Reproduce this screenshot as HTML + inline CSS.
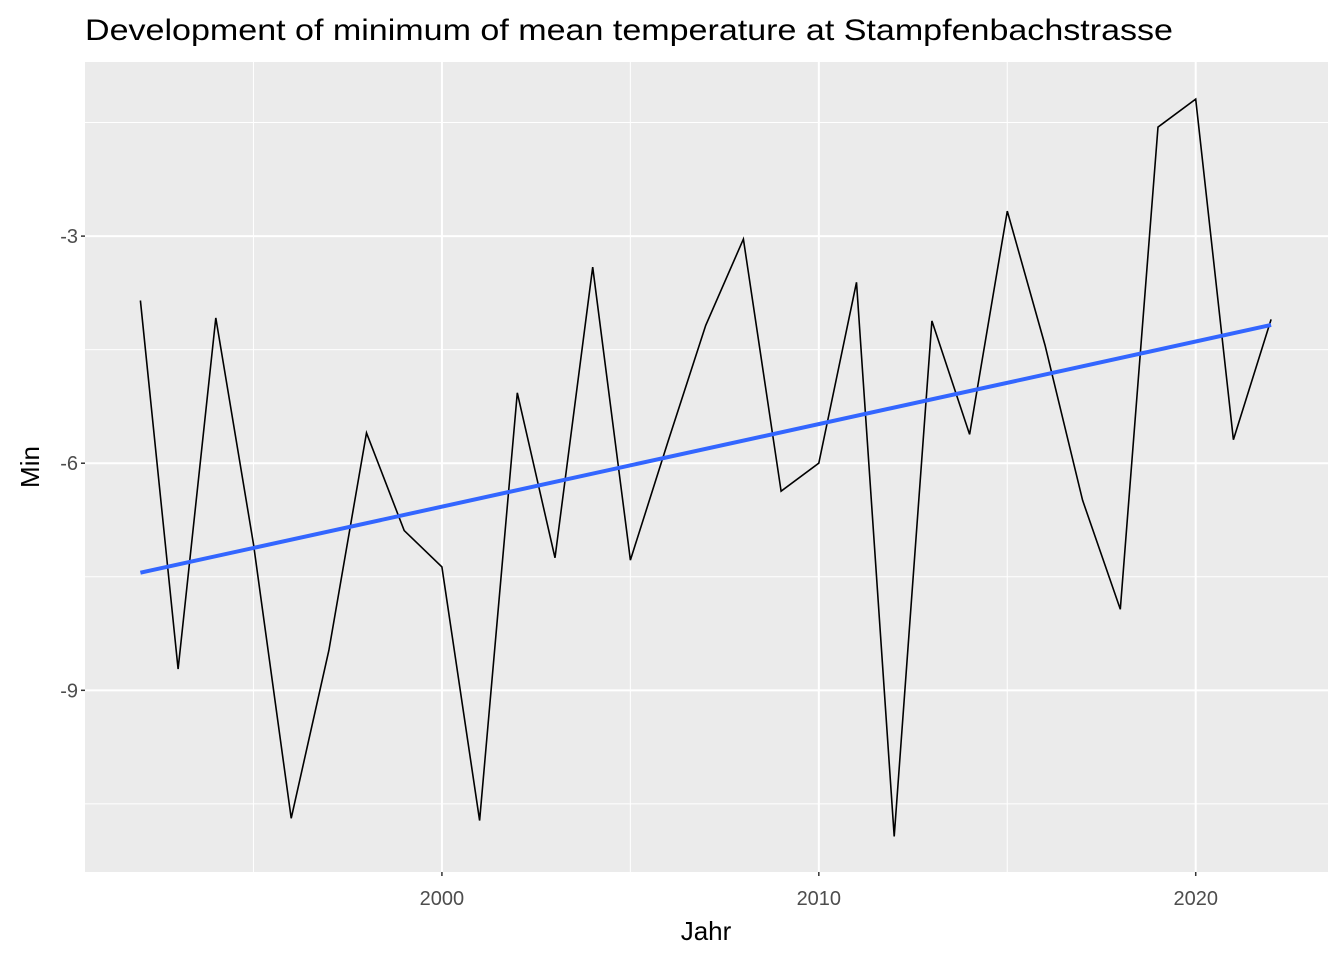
<!DOCTYPE html>
<html><head><meta charset="utf-8"><style>
body{margin:0;background:#fff;}
svg{display:block;font-family:"Liberation Sans",sans-serif;}
</style></head><body>
<svg id="chart" width="1344" height="960" xmlns="http://www.w3.org/2000/svg">
<rect x="0" y="0" width="1344" height="960" fill="#fff"/>
<text x="85" y="40" font-size="30" textLength="1088" lengthAdjust="spacingAndGlyphs" fill="#000">Development of minimum of mean temperature at Stampfenbachstrasse</text>
<rect x="85" y="62" width="1243" height="810" fill="#ebebeb"/>
<g id="grid"></g>
<g id="marks"></g>
<g id="axes"></g>
<text x="706" y="940" font-size="26" text-anchor="middle" fill="#000">Jahr</text>
<text transform="translate(39,467) rotate(-90)" font-size="26" text-anchor="middle" fill="#000">Min</text>
</svg>
<script>
const years = [1992,1993,1994,1995,1996,1997,1998,1999,2000,2001,2002,2003,2004,2005,2006,2007,2008,2009,2010,2011,2012,2013,2014,2015,2016,2017,2018,2019,2020,2021,2022];
const minTemp = [-3.85,-8.72,-4.08,-7.07,-10.69,-8.47,-5.60,-6.89,-7.37,-10.72,-5.07,-7.25,-3.41,-7.28,-5.71,-4.18,-3.04,-6.37,-6.0,-3.61,-10.93,-4.12,-5.62,-2.67,-4.44,-6.49,-7.93,-1.56,-1.19,-5.69,-4.10];
const xTicks = [2000,2010,2020];
const xMinor = [1995,2005,2015];
const yTicks = [-3,-6,-9];
const yMinor = [-1.5,-4.5,-7.5,-10.5];

const NS="http://www.w3.org/2000/svg";
const X0=85,X1=1328,Y0=62,Y1=872;
const xDom=[1990.53,2023.51], yDom=[-11.40,-0.70];
function sx(v){return X0+(v-xDom[0])/(xDom[1]-xDom[0])*(X1-X0);}
function sy(v){return Y1-(v-yDom[0])/(yDom[1]-yDom[0])*(Y1-Y0);}
function mk(tag,attrs,parent){const e=document.createElementNS(NS,tag);for(const k in attrs)e.setAttribute(k,attrs[k]);parent.appendChild(e);return e;}
const grid=document.getElementById('grid'),marks=document.getElementById('marks'),axes=document.getElementById('axes');

yMinor.forEach(v=>{const l=mk('line',{x1:X0,x2:X1,y1:sy(v),y2:sy(v),stroke:'#fff','stroke-width':1},grid);

});
xMinor.forEach(v=>{const l=mk('line',{x1:sx(v),x2:sx(v),y1:Y0,y2:Y1,stroke:'#fff','stroke-width':1},grid);

});
yTicks.forEach(v=>{const l=mk('line',{x1:X0,x2:X1,y1:sy(v),y2:sy(v),stroke:'#fff','stroke-width':2},grid);


const t=mk('line',{x1:X0-4,x2:X0,y1:sy(v),y2:sy(v),stroke:'#333','stroke-width':1.5},axes);


const tx=mk('text',{x:X0-7,y:sy(v)+7,'font-size':20,'text-anchor':'end',fill:'#4d4d4d'},axes);tx.textContent=v;

});
xTicks.forEach(v=>{const l=mk('line',{x1:sx(v),x2:sx(v),y1:Y0,y2:Y1,stroke:'#fff','stroke-width':2},grid);


const t=mk('line',{x1:sx(v),x2:sx(v),y1:Y1,y2:Y1+4,stroke:'#333','stroke-width':1.5},axes);


const tx=mk('text',{x:sx(v),y:Y1+33,'font-size':20,'text-anchor':'middle',fill:'#4d4d4d'},axes);tx.textContent=v;

});

const pts=years.map((y,i)=>sx(y).toFixed(1)+','+sy(minTemp[i]).toFixed(1)).join(' ');
const line=mk('polyline',{points:pts,fill:'none',stroke:'#000','stroke-width':1.6},marks);



const n=years.length,mx=years.reduce((a,b)=>a+b)/n,my=minTemp.reduce((a,b)=>a+b)/n;
let sxy=0,sxx=0;years.forEach((y,i)=>{sxy+=(y-mx)*(minTemp[i]-my);sxx+=(y-mx)*(y-mx);});
const slope=sxy/sxx,icp=my-slope*mx;
const xa=years[0],xb=years[n-1];
const trend=mk('line',{x1:sx(xa),y1:sy(icp+slope*xa),x2:sx(xb),y2:sy(icp+slope*xb),stroke:'#3366ff','stroke-width':4},marks);


</script>
</body></html>
